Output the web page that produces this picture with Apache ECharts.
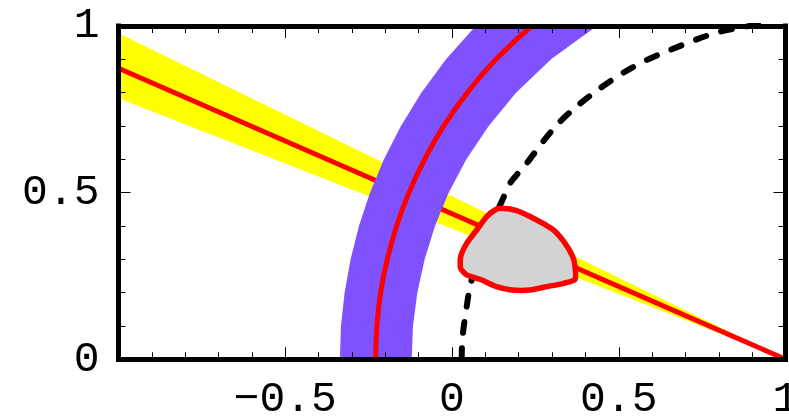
<!DOCTYPE html>
<html><head><meta charset="utf-8">
<script src="https://cdn.jsdelivr.net/npm/echarts@6/dist/echarts.min.js"></script>
<style>html,body{margin:0;padding:0;background:#fff;overflow:hidden}#c{width:789px;height:416px}</style>
</head><body><div id="c"></div>
<script>
// axis ticks / labels
const xTickValues = [-1, -0.5, 0, 0.5, 1];
const xTickLabels = ['', '\u22120.5', '0', '0.5', '1'];
const yTickValues = [0, 0.5, 1];
const yTickLabels = ['0', '0.5', '1'];

// yellow band (straight wedge through (1,0)) and its central red line
const yellowUpper = [[-1, 0.978], [1, 0]];
const yellowLower = [[-1, 0.783], [1, 0]];
const yellowCenter = [[-1, 0.873], [1, 0]];

// purple band: edges read at these heights
const bandY = [0, 0.1, 0.2, 0.3, 0.4, 0.5, 0.6, 0.7, 0.8, 0.9, 1.0];
const purpleLeftX = [-0.336, -0.333, -0.322, -0.304, -0.279, -0.246, -0.204, -0.153, -0.092, -0.018, 0.071];
const purpleCenterX = [-0.229, -0.225, -0.214, -0.194, -0.166, -0.129, -0.082, -0.025, 0.046, 0.132, 0.239];
const purpleRightX = [-0.121, -0.117, -0.104, -0.082, -0.051, -0.010, 0.043, 0.110, 0.192, 0.297, 0.434];

// dashed black curve
const dashedCurve = [[0.029,0.0],[0.030,0.04],[0.034,0.088],[0.044,0.158],[0.054,0.218],[0.09,0.35],[0.149,0.473],[0.174,0.528],[0.224,0.588],[0.269,0.648],[0.319,0.708],[0.379,0.763],[0.444,0.813],[0.514,0.860],[0.584,0.898],[0.659,0.930],[0.734,0.960],[0.804,0.983],[0.873,0.997],[0.93,1.005]];

// closed fit region (red outline, grey fill)
const fitContour = [[0.149,0.453],[0.194,0.446],[0.254,0.418],[0.304,0.388],[0.339,0.348],[0.362,0.308],[0.369,0.278],[0.369,0.240],[0.334,0.228],[0.284,0.218],[0.234,0.208],[0.179,0.208],[0.134,0.218],[0.084,0.240],[0.044,0.253],[0.026,0.273],[0.026,0.308],[0.044,0.348],[0.074,0.388],[0.104,0.428],[0.129,0.448]];

const FONT = 'Liberation Mono';
function lookup(vals, labels) {
  return function (v) {
    for (let i = 0; i < vals.length; i++) if (Math.abs(vals[i] - v) < 1e-9) return labels[i];
    return '';
  };
}
function axisBase(extra) {
  return Object.assign({
    type: 'value', z: 10,
    axisLine: { show: true, onZero: false, lineStyle: { color: '#000', width: 5, cap: 'square' } },
    axisTick: { show: true, inside: true, length: 12, lineStyle: { color: '#000', width: 1 } },
    minorTick: { show: true, splitNumber: 5, length: 7, lineStyle: { color: '#000', width: 1 } },
    splitLine: { show: false }, minorSplitLine: { show: false }
  }, extra);
}
const labelStyle = { margin: 19, fontFamily: FONT, fontSize: 43, color: '#000', hideOverlap: false };

const purpleEdgeL = bandY.map((y, i) => [purpleLeftX[i], y]);
const purpleEdgeR = bandY.map((y, i) => [purpleRightX[i], y]);
const purpleMid = bandY.map((y, i) => [purpleCenterX[i], y]);

function polySeries(pts, style, z, smooth) {
  return {
    type: 'custom', coordinateSystem: 'cartesian2d', z: z, silent: true,
    data: [[0, 0]],
    renderItem: function (params, api) {
      return { type: 'polygon', shape: { points: pts.map(p => api.coord(p)), smooth: smooth || 0 }, style: style };
    }
  };
}

const chart = echarts.init(document.getElementById('c'), null, { renderer: 'canvas' });
chart.setOption({
  animation: false,
  backgroundColor: '#fff',
  grid: { left: 118.5, top: 26, width: 667, height: 333.3, containLabel: false, outerBoundsMode: 'none' },
  xAxis: [
    axisBase({ min: -1, max: 1, interval: 0.5, position: 'bottom',
      axisLabel: Object.assign({ formatter: lookup(xTickValues, xTickLabels) }, labelStyle) }),
    axisBase({ min: -1, max: 1, interval: 0.5, position: 'top', axisLabel: { show: false } })
  ],
  yAxis: [
    axisBase({ min: 0, max: 1, interval: 0.5, position: 'left',
      axisLabel: Object.assign({ formatter: lookup(yTickValues, yTickLabels) }, labelStyle) }),
    axisBase({ min: 0, max: 1, interval: 0.5, position: 'right', axisLabel: { show: false } })
  ],
  series: [
    polySeries(yellowUpper.concat(yellowLower.slice().reverse()), { fill: '#ffff00' }, 2),
    { type: 'line', data: yellowCenter, z: 3, symbol: 'none', lineStyle: { color: '#ff0000', width: 5 } },
    polySeries(purpleEdgeL.concat(purpleEdgeR.slice().reverse()), { fill: '#7f51ff' }, 4),
    { type: 'line', data: purpleMid, z: 5, smooth: true, symbol: 'none', lineStyle: { color: '#ff0000', width: 5 } },
    { type: 'line', data: dashedCurve, z: 6, smooth: 0.3, symbol: 'none',
      lineStyle: { color: '#000', width: 6, type: [11, 15.5], cap: 'round' } },
    polySeries(fitContour, { fill: '#d3d3d3', stroke: '#ff0000', lineWidth: 5.5, lineJoin: 'round' }, 7, 0.2)
  ]
});
</script></body></html>
